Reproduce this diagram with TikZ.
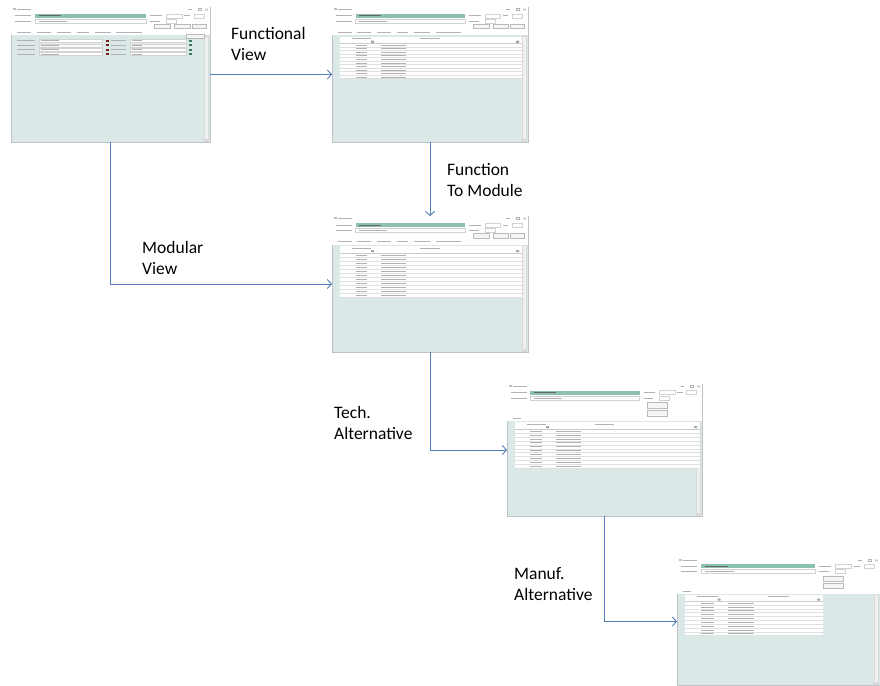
\documentclass[tikz,border=0pt]{standalone}
\usepackage{fontspec}
\setmainfont{Carlito}
\usetikzlibrary{arrows.meta}

\definecolor{linkblue}{RGB}{84,124,184}
\definecolor{panelteal}{RGB}{219,232,232}
\definecolor{fieldgreen}{RGB}{140,194,172}
\definecolor{framegray}{RGB}{190,194,198}
\definecolor{markred}{RGB}{120,30,30}
\definecolor{markgreen}{RGB}{60,120,90}

\tikzset{
  screen/.style={draw=framegray, fill=panelteal, inner sep=0pt, outer sep=0pt},
  flow/.style={draw=linkblue, line width=0.9pt, -{Straight Barb[length=4pt,width=9pt]}},
  caption/.style={anchor=west, align=left, inner sep=0pt, font=\fontsize{17.5}{21.5}\selectfont},
  scribble/.style={draw=gray!60, line width=0.6pt},
  field/.style={draw=gray!35, fill=white, line width=0.3pt},
  button/.style={draw=gray!55, fill=gray!8, line width=0.3pt},
}

% common parts of a window: name, width, height, end of white header
\newcommand{\screeninside}[4]{%
  \begin{scope}[shift={(#1.north west)}, x=#2pt, y=-#3pt]
    \fill[white] (0,0) rectangle (1,#4);
    \fill[gray!50] (0.01,0.01) rectangle (0.025,0.025);
    \draw[scribble] (0.03,0.018) -- (0.1,0.018);
    \draw[scribble] (0.89,0.018) -- (0.91,0.018) (0.94,0.012) rectangle (0.955,0.025);
    \draw[scribble, line width=0.4pt] (0.975,0.012) -- (0.99,0.026) (0.975,0.026) -- (0.99,0.012);
    \draw[scribble] (0.02,0.065) -- (0.1,0.065) (0.02,0.105) -- (0.1,0.105);
    \fill[fieldgreen] (0.12,0.05) rectangle (0.68,0.08);
    \draw[gray!80!black, line width=0.6pt] (0.14,0.065) -- (0.25,0.065);
    \draw[field] (0.12,0.09) rectangle (0.68,0.12);
    \draw[scribble] (0.14,0.105) -- (0.28,0.105);
    \draw[scribble] (0.7,0.065) -- (0.76,0.065) (0.7,0.105) -- (0.75,0.105);
    \draw[field] (0.78,0.05) rectangle (0.86,0.08) (0.78,0.09) rectangle (0.83,0.12);
    \draw[field] (0.92,0.05) rectangle (0.97,0.08);
    \draw[scribble] (0.87,0.065) -- (0.9,0.065);
    \fill[gray!30] (0.97,#4) rectangle (0.995,1);
    \fill[gray!12] (0.975,{#4+0.01}) rectangle (0.99,0.98);
  \end{scope}}

% table: name, width, height, rows, right end, top, row height
\newcommand{\tablerows}[7]{%
  \begin{scope}[shift={(#1.north west)}, x=#2pt, y=-#3pt]
    \fill[white] (0.04,#6) rectangle (#5,{#6+0.05+#4*#7});
    \draw[gray!40, line width=0.3pt] (0.04,{#6+0.05}) -- (#5,{#6+0.05});
    \draw[scribble] (0.1,{#6+0.015}) -- (0.2,{#6+0.015}) (0.45,{#6+0.015}) -- (0.55,{#6+0.015});
    \fill[gray!70] (0.2,{#6+0.03}) rectangle (0.215,{#6+0.045})
      ({#5-0.03},{#6+0.03}) rectangle ({#5-0.015},{#6+0.045});
    \foreach \r in {1,...,#4} {
      \draw[gray!25, line width=0.3pt] (0.04,{#6+0.05+\r*#7}) -- (#5,{#6+0.05+\r*#7});
      \draw[scribble, line width=0.5pt] (0.12,{#6+0.05+(\r-0.5)*#7}) -- (0.18,{#6+0.05+(\r-0.5)*#7})
        (0.25,{#6+0.05+(\r-0.5)*#7}) -- (0.38,{#6+0.05+(\r-0.5)*#7});
    }
  \end{scope}}

\begin{document}
\begin{tikzpicture}[x=1pt, y=-1pt]
  \useasboundingbox (0,0) rectangle (880,685);

  % the five windows
  \node[screen, minimum width=199pt, minimum height=135pt] (w1) at (110.5,74.5) {};
  \node[screen, minimum width=196pt, minimum height=135pt] (w2) at (430,74.5) {};
  \node[screen, minimum width=196pt, minimum height=136pt] (w3) at (430,284) {};
  \node[screen, minimum width=195pt, minimum height=132pt] (w4) at (604.5,450) {};
  \node[screen, minimum width=203pt, minimum height=127pt] (w5) at (778.5,621.5) {};

  \screeninside{w1}{199}{135}{0.21}
  \screeninside{w2}{196}{135}{0.21}
  \screeninside{w3}{196}{136}{0.21}
  \screeninside{w4}{195}{132}{0.28}
  \screeninside{w5}{203}{127}{0.28}

  % tabs and buttons of the first three windows
  \foreach \w/\wd/\ht in {w1/199/135, w2/196/135, w3/196/136} {
    \begin{scope}[shift={(\w.north west)}, x=\wd pt, y=-\ht pt]
      \draw[button] (0.72,0.127) rectangle (0.8,0.16) (0.82,0.127) rectangle (0.9,0.16)
        (0.91,0.127) rectangle (0.98,0.16);
      \draw[scribble] (0.03,0.185) -- (0.1,0.185) (0.13,0.185) -- (0.2,0.185) (0.23,0.185) -- (0.3,0.185)
        (0.33,0.185) -- (0.39,0.185) (0.42,0.185) -- (0.5,0.185) (0.53,0.185) -- (0.66,0.185);
    \end{scope}
  }

  % form of the first window
  \begin{scope}[shift={(w1.north west)}, x=199pt, y=-135pt]
    \draw[button] (0.88,0.2) rectangle (0.97,0.23);
    \foreach \r in {0,1,2,3} {
      \draw[scribble] (0.03,{0.25+\r*0.033}) -- (0.12,{0.25+\r*0.033})
        (0.5,{0.25+\r*0.033}) -- (0.58,{0.25+\r*0.033});
      \draw[field] (0.14,{0.239+\r*0.033}) rectangle (0.46,{0.261+\r*0.033})
        (0.6,{0.239+\r*0.033}) rectangle (0.88,{0.261+\r*0.033});
      \draw[scribble, line width=0.5pt] (0.15,{0.25+\r*0.033}) -- (0.24,{0.25+\r*0.033})
        (0.61,{0.25+\r*0.033}) -- (0.66,{0.25+\r*0.033});
      \fill[markred] (0.475,{0.242+\r*0.033}) rectangle (0.49,{0.258+\r*0.033});
      \fill[markgreen] (0.895,{0.242+\r*0.033}) rectangle (0.91,{0.258+\r*0.033});
    }
  \end{scope}

  % buttons of the last two windows
  \foreach \w/\wd/\ht in {w4/195/132, w5/203/127} {
    \begin{scope}[shift={(\w.north west)}, x=\wd pt, y=-\ht pt]
      \draw[button] (0.72,0.14) rectangle (0.82,0.18) (0.72,0.2) rectangle (0.82,0.24);
      \draw[scribble] (0.03,0.26) -- (0.07,0.26);
    \end{scope}
  }

  \tablerows{w2}{196}{135}{10}{0.97}{0.22}{0.026}
  \tablerows{w3}{196}{136}{11}{0.97}{0.22}{0.03}
  \tablerows{w4}{195}{132}{10}{0.99}{0.29}{0.03}
  \tablerows{w5}{203}{127}{9}{0.72}{0.29}{0.03}

  % connectors
  \draw[flow] (w1.east) -- (w2.west);
  \draw[flow] (w2.south) -- (w3.north);
  \draw[flow] (w1.south) |- (w3.west);
  \draw[flow] (w3.south) |- (w4.west);
  \draw[flow] (w4.south) |- (w5.west);

  % captions
  \node[caption] (functional) at (231,44) {Functional\\View};
  \node[caption] (tomodule) at (447,180) {Function\\To Module};
  \node[caption] (modular) at (142,258) {Modular\\View};
  \node[caption] (tech) at (334,423) {Tech.\\Alternative};
  \node[caption] (manuf) at (514,584) {Manuf.\\Alternative};
\end{tikzpicture}
\end{document}
